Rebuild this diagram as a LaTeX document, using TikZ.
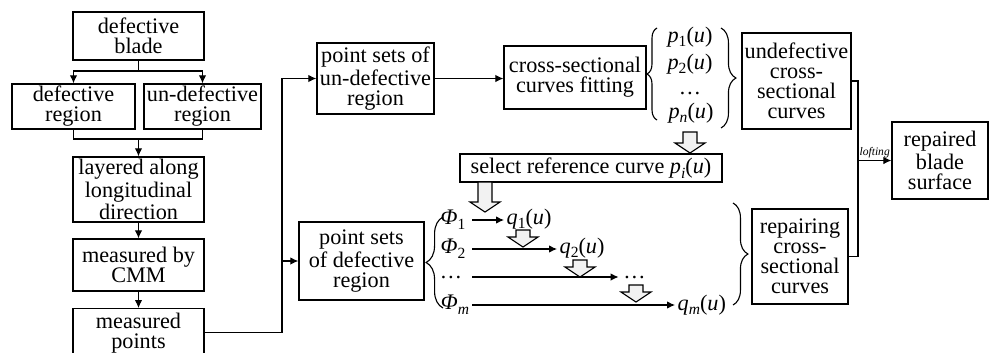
\documentclass[tikz,border=0pt]{standalone}
\usepackage{fontspec}
\setmainfont{Liberation Serif}
\usetikzlibrary{arrows.meta,decorations.pathreplacing}

\newcommand{\lowsub}[1]{\raisebox{-0.45ex}{\fontsize{7}{7}\selectfont #1}}
\newcommand{\fnu}[2]{\textit{#1}\lowsub{#2}(\textit{u})}

\begin{document}
\begin{tikzpicture}[
  x=0.45pt,y=-0.45pt,
  >={Latex[length=3.6pt,width=3.4pt]},
  font=\fontsize{10}{9}\selectfont,
  box/.style 2 args={draw,line width=0.6pt,minimum width=#1,minimum height=#2,
    inner sep=1pt,align=center},
  link/.style={line width=0.5pt},
  fn/.style={inner sep=1pt},
  brc/.style={decorate,decoration={brace,amplitude=#1},line width=0.5pt},
  pics/fatdown/.style={code={
    \draw[line width=0.5pt,fill=gray!10] (-7,0) -- (7,0) -- (7,#1-10) -- (15,#1-10)
      -- (0,#1) -- (-15,#1-10) -- (-7,#1-10) -- cycle;}},
  pics/fatdown/.default=21]

  \useasboundingbox (0,0) rectangle (990,352);

  % ---- left column ----
  \node[box={59pt}{21.6pt}] (blade) at (138.5,36) {defective\\blade};
  \node[box={55.4pt}{20.3pt}] (defreg) at (73.5,106.5) {defective\\region};
  \node[box={52.7pt}{20.3pt}] (undefreg) at (202.5,106.5) {un-defective\\region};
  \node[box={59pt}{29.3pt}] (layer) at (138.5,189.5) {layered along\\longitudinal\\direction};
  \node[box={59pt}{23.4pt}] (cmm) at (138.5,265) {measured by\\CMM};
  \node[box={59pt}{21.6pt},anchor=north] (mpts) at (138.5,308) {measured\\points};

  \coordinate (split) at (138.5,71);
  \draw[link] (blade.south) -- (split);
  \draw[link,->] (split) -| (defreg.north);
  \draw[link,->] (split) -| (undefreg.north);
  \coordinate (merge) at (138.5,139);
  \draw[link] (defreg.south) |- (merge) -| (undefreg.south);
  \draw[link,->] (merge) -- (layer.north);
  \draw[link,->] (layer) -- (cmm);
  \draw[link,->] (cmm) -- (mpts);

  % ---- point sets ----
  \node[box={52.7pt}{32pt}] (unpts) at (375.5,78.5) {point sets of\\un-defective\\region};
  \node[box={56.3pt}{35.1pt}] (defpts) at (361.5,261) {point sets\\of defective\\region};

  \coordinate (bus) at (282,0);
  \draw[link,->] (mpts.east) -| (bus |- unpts.west) -- (unpts.west);
  \draw[link,->] (bus |- defpts.west) -- (defpts.west);

  % ---- upper row: fitting ----
  \node[box={63.9pt}{28.4pt}] (fit) at (575,77.5) {cross-sectional\\curves fitting};
  \draw[link,->] (unpts.east) -- (unpts.east -| fit.west);

  \node[fn] (p1) at (690,37) {\fnu{p}{1}};
  \node[fn] (p2) at (690,64) {\fnu{p}{2}};
  \node[fn,inner sep=0pt] (pdots) at (690,93) {…};
  \node[fn] (pn) at (691,113) {\fnu{p}{\textit{n}}};
  \draw[brc=4.5pt] (657,120) -- (657,28);
  \draw[brc=6.7pt] (721,28) -- (721,128);

  \node[box={49pt}{43.2pt}] (undefcrv) at (796.5,81) {undefective\\cross-\\sectional\\curves};

  \node[box={117.9pt}{12.6pt}] (select) at (591,168) {select reference curve \fnu{p}{\textit{i}}};
  \pic at (690,132) {fatdown=21};
  \pic at (485,182) {fatdown=30};

  % ---- lower row: repairing ----
  \node[fn] (phi1) at (453,220) {\textit{Φ}\lowsub{1}};
  \node[fn] (phi2) at (453,249) {\textit{Φ}\lowsub{2}};
  \node[fn,inner sep=0pt] (phidots) at (451,277) {…};
  \node[fn] (phim) at (455,305) {\textit{Φ}\lowsub{\textit{m}}};
  \draw[brc=7.6pt] (443,308) -- (443,217);

  \node[fn,anchor=west] (q1) at (504,219) {\fnu{q}{1}};
  \node[fn,anchor=west] (q2) at (557,248) {\fnu{q}{2}};
  \node[fn,anchor=west,inner sep=0pt] (qdots) at (623,277) {…};
  \node[fn,anchor=west] (qm) at (675,305) {\fnu{q}{\textit{m}}};

  \coordinate (tap) at (472,0);
  \draw[link,->] (tap |- phi1.east) -- (phi1.east -| q1.west);
  \draw[link,->] (tap |- phi2.east) -- (phi2.east -| q2.west);
  \draw[link,->] (tap |- phidots.east) -- ([xshift=-2pt]phidots.east -| qdots.west);
  \draw[link,->] (tap |- phim.east) -- (phim.east -| qm.west);

  \pic at (523,230) {fatdown=17};
  \pic at (580,260) {fatdown=17};
  \pic at (636,285) {fatdown=17};

  \draw[brc=6.7pt] (733,203) -- (733,305);
  \node[box={43.2pt}{42.8pt}] (repcrv) at (800,256.5) {repairing\\cross-\\sectional\\curves};

  % ---- lofting ----
  \node[box={43.2pt}{34.7pt}] (repaired) at (940,160.5) {repaired\\blade\\surface};
  \coordinate (loft) at (858,160.5);
  \draw[link] (undefcrv.east) -| (loft) |- (repcrv.east);
  \draw[link,->] (loft) -- (repaired.west)
    node[midway,above,inner sep=1pt,font=\fontsize{5.2}{6}\selectfont\itshape] {lofting};
\end{tikzpicture}
\end{document}
